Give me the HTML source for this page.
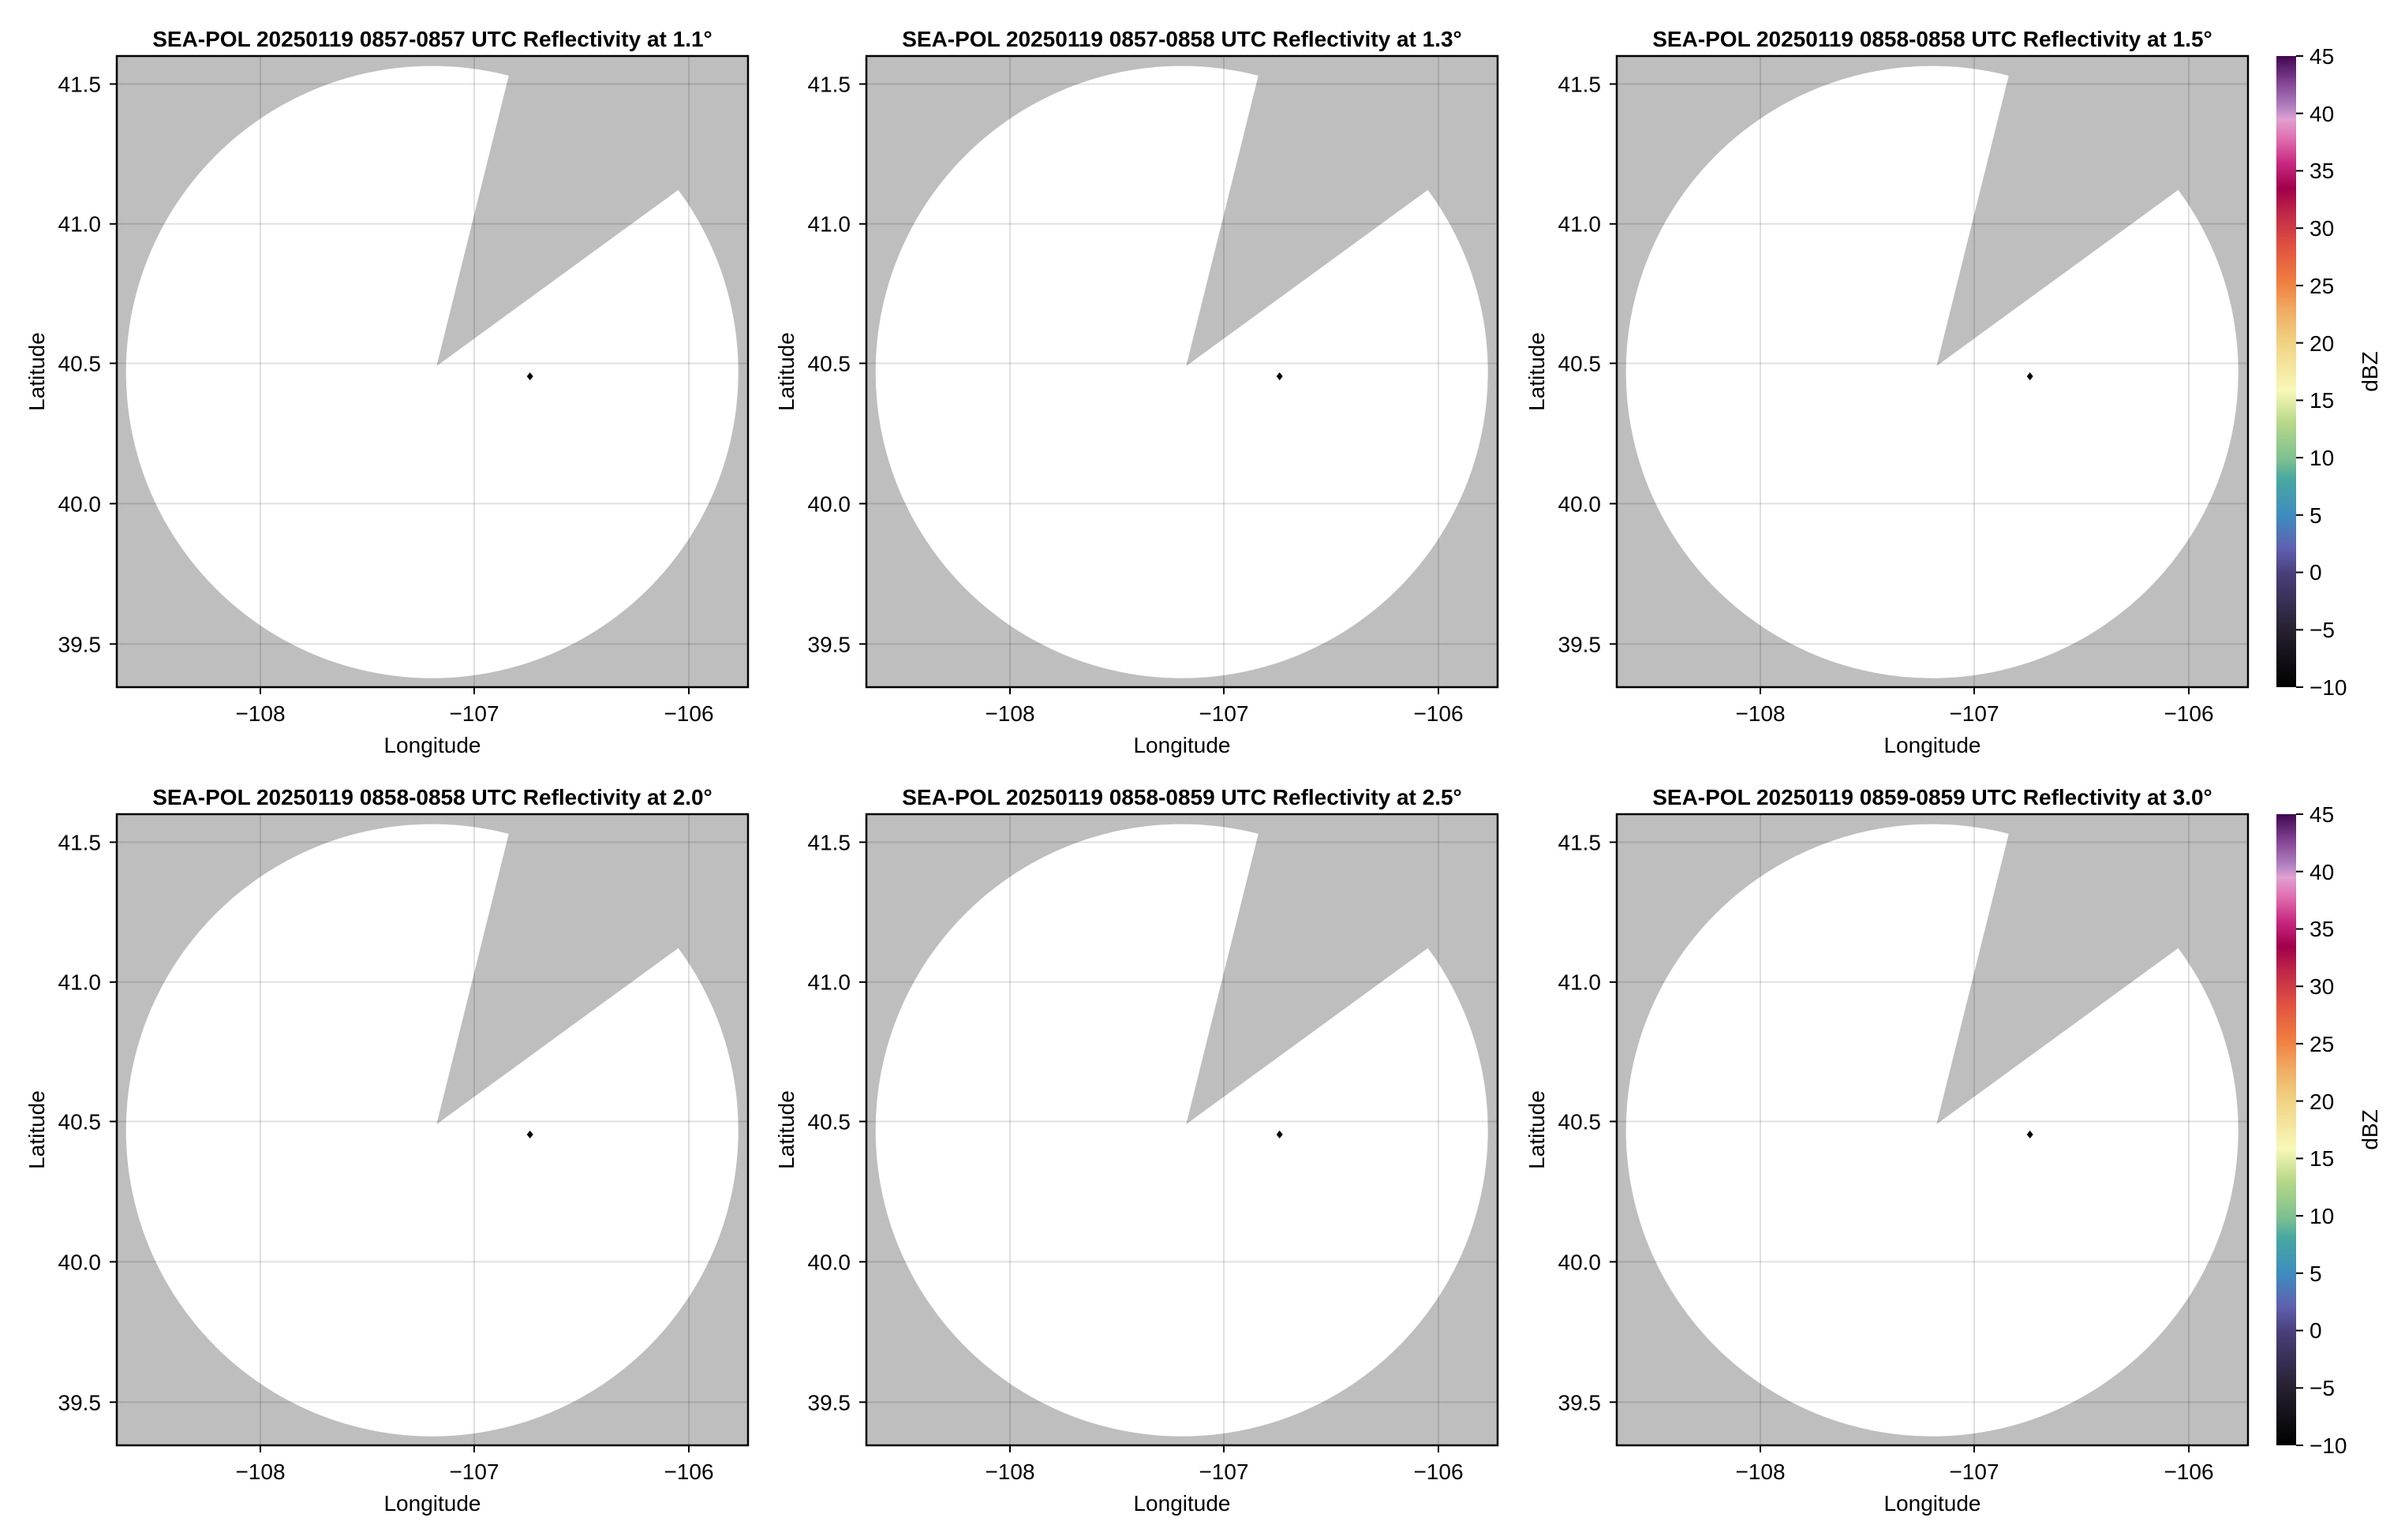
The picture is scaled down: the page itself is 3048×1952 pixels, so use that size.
<!DOCTYPE html>
<html><head><meta charset="utf-8"><style>
html,body{margin:0;padding:0;background:#fff;}
svg{display:block;font-family:"Liberation Sans",sans-serif;}
</style></head><body>
<svg width="3048" height="1952" viewBox="0 0 3048 1952" xmlns="http://www.w3.org/2000/svg">
<defs>
<clipPath id="ax"><rect x="0" y="0" width="800" height="800"/></clipPath>
<linearGradient id="cb" x1="0" y1="1" x2="0" y2="0">
<stop offset="0" stop-color="#000000"/>
<stop offset="0.09" stop-color="#26202f"/>
<stop offset="0.18" stop-color="#4a3f7a"/>
<stop offset="0.22" stop-color="#6060b0"/>
<stop offset="0.27" stop-color="#3e8bc0"/>
<stop offset="0.33" stop-color="#48a8a0"/>
<stop offset="0.36" stop-color="#7cc090"/>
<stop offset="0.42" stop-color="#b8d888"/>
<stop offset="0.47" stop-color="#f8f8b8"/>
<stop offset="0.55" stop-color="#f0d080"/>
<stop offset="0.60" stop-color="#f0a860"/>
<stop offset="0.64" stop-color="#f08040"/>
<stop offset="0.70" stop-color="#e05040"/>
<stop offset="0.75" stop-color="#c02848"/>
<stop offset="0.79" stop-color="#a0004a"/>
<stop offset="0.83" stop-color="#c82880"/>
<stop offset="0.87" stop-color="#e070b0"/>
<stop offset="0.90" stop-color="#e0a0d0"/>
<stop offset="0.92" stop-color="#b080c0"/>
<stop offset="0.96" stop-color="#804090"/>
<stop offset="1" stop-color="#400850"/>
</linearGradient>
<g id="plot">
  <g clip-path="url(#ax)">
    <rect x="0" y="0" width="800" height="800" fill="#bebebe"/>
    <circle cx="399.7" cy="400.6" r="388" fill="#fff"/>
    <polygon points="405.3,393 497,24 502,0 800,0 800,80 710.3,170.7" fill="#bebebe"/>
    <g stroke="#000" stroke-opacity="0.12" stroke-width="2">
      <line x1="182" y1="0" x2="182" y2="800"/>
      <line x1="453" y1="0" x2="453" y2="800"/>
      <line x1="725" y1="0" x2="725" y2="800"/>
      <line x1="0" y1="35.5" x2="800" y2="35.5"/>
      <line x1="0" y1="212.8" x2="800" y2="212.8"/>
      <line x1="0" y1="389.5" x2="800" y2="389.5"/>
      <line x1="0" y1="567.4" x2="800" y2="567.4"/>
      <line x1="0" y1="745.3" x2="800" y2="745.3"/>
    </g>
    <polygon points="523.7,401 527.7,406 523.7,411 519.7,406" fill="#000"/>
  </g>
  <rect x="0" y="0" width="800" height="800" fill="none" stroke="#000" stroke-width="2.5"/>
  <g stroke="#000" stroke-width="2">
    <line x1="182" y1="800" x2="182" y2="809"/>
    <line x1="453" y1="800" x2="453" y2="809"/>
    <line x1="725" y1="800" x2="725" y2="809"/>
    <line x1="-9" y1="35.5" x2="0" y2="35.5"/>
    <line x1="-9" y1="212.8" x2="0" y2="212.8"/>
    <line x1="-9" y1="389.5" x2="0" y2="389.5"/>
    <line x1="-9" y1="567.4" x2="0" y2="567.4"/>
    <line x1="-9" y1="745.3" x2="0" y2="745.3"/>
  </g>
  <g font-size="28" fill="#000" text-anchor="middle">
    <text x="182" y="843">−108</text>
    <text x="453" y="843">−107</text>
    <text x="725" y="843">−106</text>
    <text x="400" y="883">Longitude</text>
  </g>
  <g font-size="28" fill="#000" text-anchor="end">
    <text x="-20" y="45.5">41.5</text>
    <text x="-20" y="222.5">41.0</text>
    <text x="-20" y="399.5">40.5</text>
    <text x="-20" y="577.5">40.0</text>
    <text x="-20" y="755.5">39.5</text>
  </g>
  <text transform="translate(-92,400) rotate(-90)" font-size="28" text-anchor="middle">Latitude</text>
</g>
<g id="cbar">
  <rect x="0" y="0" width="25" height="800" fill="url(#cb)"/>
  <g stroke="#000" stroke-width="2">
    <line x1="25" y1="0" x2="34" y2="0"/><line x1="25" y1="72.7" x2="34" y2="72.7"/>
    <line x1="25" y1="145.5" x2="34" y2="145.5"/><line x1="25" y1="218.2" x2="34" y2="218.2"/>
    <line x1="25" y1="290.9" x2="34" y2="290.9"/><line x1="25" y1="363.6" x2="34" y2="363.6"/>
    <line x1="25" y1="436.4" x2="34" y2="436.4"/><line x1="25" y1="509.1" x2="34" y2="509.1"/>
    <line x1="25" y1="581.8" x2="34" y2="581.8"/><line x1="25" y1="654.5" x2="34" y2="654.5"/>
    <line x1="25" y1="727.3" x2="34" y2="727.3"/><line x1="25" y1="800" x2="34" y2="800"/>
  </g>
  <g font-size="28" fill="#000">
    <text x="42" y="10">45</text><text x="42" y="83">40</text><text x="42" y="155">35</text>
    <text x="42" y="228">30</text><text x="42" y="301">25</text><text x="42" y="374">20</text>
    <text x="42" y="446">15</text><text x="42" y="519">10</text><text x="42" y="592">5</text>
    <text x="42" y="664">0</text><text x="42" y="737">−5</text><text x="42" y="810">−10</text>
  </g>
  <text transform="translate(128,400) rotate(-90)" font-size="28" text-anchor="middle">dBZ</text>
</g>
</defs>
<g font-size="28" font-weight="bold" text-anchor="middle">
<text x="548" y="59">SEA-POL 20250119 0857-0857 UTC Reflectivity at 1.1°</text>
<text x="1498" y="59">SEA-POL 20250119 0857-0858 UTC Reflectivity at 1.3°</text>
<text x="2449" y="59">SEA-POL 20250119 0858-0858 UTC Reflectivity at 1.5°</text>
<text x="548" y="1020">SEA-POL 20250119 0858-0858 UTC Reflectivity at 2.0°</text>
<text x="1498" y="1020">SEA-POL 20250119 0858-0859 UTC Reflectivity at 2.5°</text>
<text x="2449" y="1020">SEA-POL 20250119 0859-0859 UTC Reflectivity at 3.0°</text>
</g>
<use href="#plot" transform="translate(148,71)"/>
<use href="#plot" transform="translate(1098,71)"/>
<use href="#plot" transform="translate(2049,71)"/>
<use href="#plot" transform="translate(148,1032)"/>
<use href="#plot" transform="translate(1098,1032)"/>
<use href="#plot" transform="translate(2049,1032)"/>
<use href="#cbar" transform="translate(2885,71)"/>
<use href="#cbar" transform="translate(2885,1032)"/>
</svg>
</body></html>
